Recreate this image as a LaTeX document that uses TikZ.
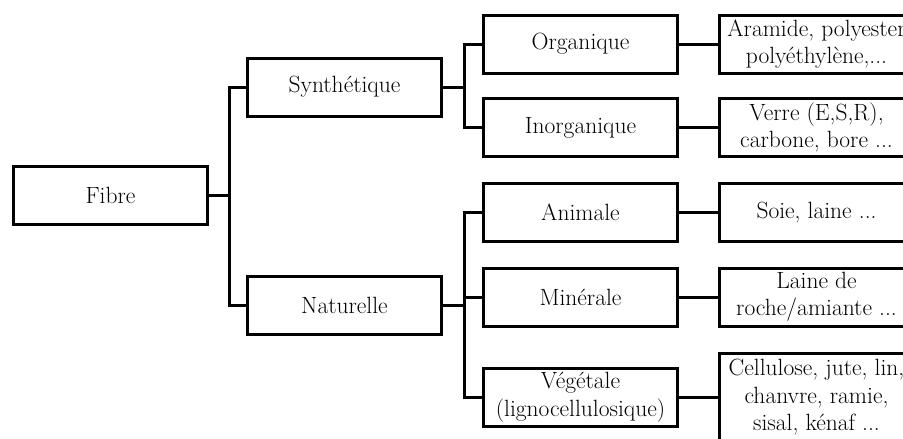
\documentclass[tikz,border=0pt]{standalone}
\usepackage{tikz}
\usetikzlibrary{positioning,calc}
\definecolor{ink}{HTML}{000000}
\tikzset{
  cat/.style={draw=ink,line width=3pt,fill=white,minimum width=194pt,minimum height=58pt,inner sep=2pt,align=center},
  leaf/.style={cat},
  link/.style={draw=ink,line width=3pt}
}

\begin{document}
\begin{tikzpicture}[x=1pt,y=-1pt,font=\fontsize{23.5}{27.5}\selectfont]
\useasboundingbox (0,0) rectangle (903,439);
\clip (0,0) rectangle (903,439);
% level 0 and 1
\node[cat] (fibre) at (110.5,195.5) {Fibre};
\node[cat] (synth) at (344.5,87) {Synthétique};
\node[cat] (natur) at (344.5,305) {Naturelle};
% level 2
\node[cat] (organ) at (580.5,44) {Organique};
\node[cat] (inorg) at (580.5,127.5) {Inorganique};
\node[cat] (anim) at (580.5,212.5) {Animale};
\node[cat] (miner) at (580.5,297) {Minérale};
\node[cat] (veget) at (580.5,397.5) {Végétale\\(lignocellulosique)};
% examples
\node[leaf] (aram) at (816.5,44) {Aramide, polyester\\polyéthylène,...};
\node[leaf] (verre) at (816.5,127.5) {Verre (E,S,R),\\carbone, bore ...};
\node[leaf] (soie) at (816.5,212.5) {Soie, laine ...};
\node[leaf] (laine) at (816.5,297) {Laine de\\roche/amiante ...};
\node[leaf,minimum height=89pt] (cellu) at (816.5,397.5) {Cellulose, jute, lin,\\chanvre, ramie,\\sisal, kénaf ...};
% connectors
\draw[link] (fibre.east) -- +(20.5,0) |- (synth.west);
\draw[link] (fibre.east) -- +(20.5,0) |- (natur.west);
\draw[link] (synth.east) -- +(21.5,0) |- (organ.west);
\draw[link] (synth.east) -- +(21.5,0) |- (inorg.west);
\draw[link] (natur.east) -- +(21.5,0) |- (anim.west);
\draw[link] (natur.east) -- +(21.5,0) |- (miner.west);
\draw[link] (natur.east) -- +(21.5,0) |- (veget.west);
\draw[link] (organ) -- (aram);
\draw[link] (inorg) -- (verre);
\draw[link] (anim) -- (soie);
\draw[link] (miner) -- (laine);
\draw[link] (veget) -- (cellu);
\end{tikzpicture}
\end{document}
